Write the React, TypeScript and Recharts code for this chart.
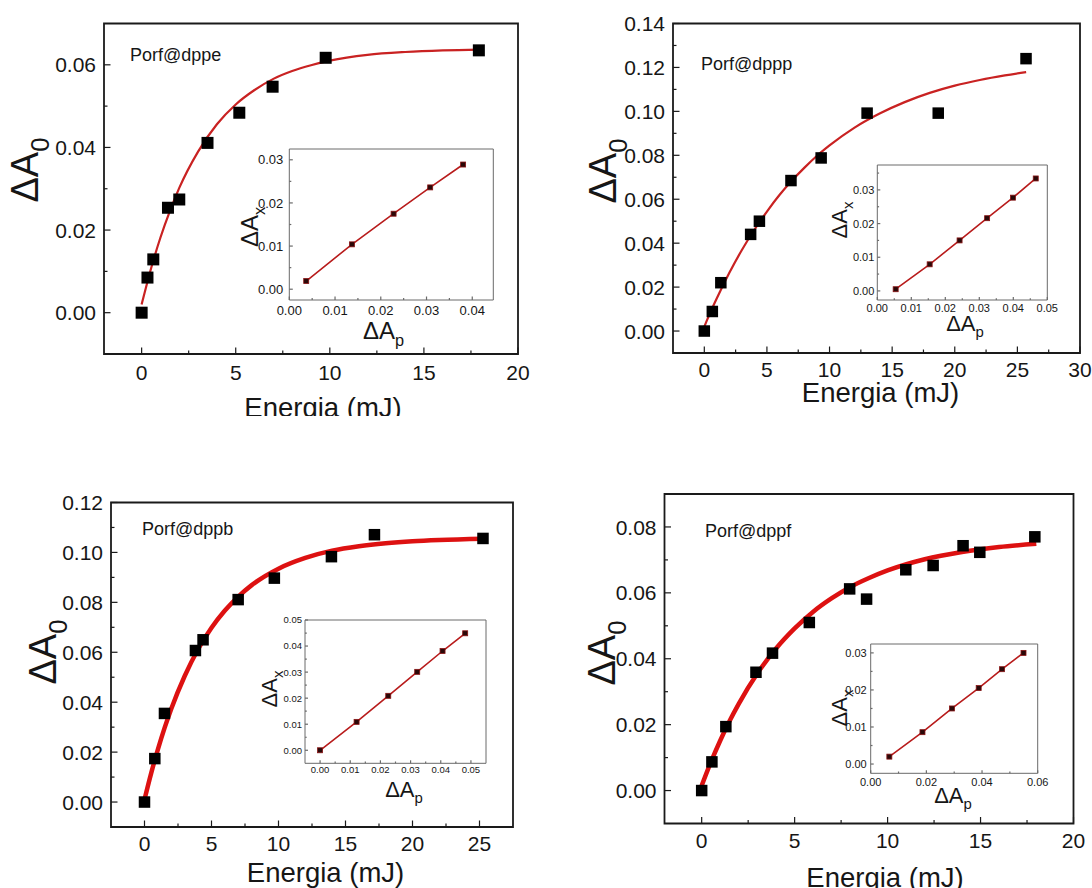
import type { ReactNode } from "react";
import { ComposedChart, Line, ReferenceArea, Scatter, XAxis, YAxis } from "recharts";

const FONT = "'Liberation Sans', Arial, Helvetica, sans-serif";
const INK = "#161616";

// Porf@dppe: measured ΔA0 vs energy, fitted curve, inset ΔAx vs ΔAp
const dppeEnergy = [0, 0.31, 0.62, 1.4, 2.0, 3.5, 5.19, 6.96, 9.78, 17.92];
const dppeA0 = [0, 0.0085, 0.0129, 0.0254, 0.0274, 0.0411, 0.0484, 0.0547, 0.0617, 0.0635];
const dppeFitEnergy = [0, 0.5, 1, 1.5, 2, 3, 4, 5, 6, 7, 8, 9, 10, 12, 14, 16, 18];
const dppeFitA0 = [0.002, 0.0107, 0.0182, 0.0246, 0.0302, 0.039, 0.0456, 0.0504, 0.0539, 0.0566, 0.0585, 0.0599, 0.061, 0.0624, 0.0631, 0.0635, 0.0637];
const dppeAp = [0.0037, 0.0137, 0.0228, 0.0308, 0.038];
const dppeAx = [0.0019, 0.0104, 0.0175, 0.0236, 0.0289];

// Porf@dppp
const dpppEnergy = [0, 0.64, 1.32, 3.7, 4.4, 6.92, 9.33, 13.0, 18.68, 25.69];
const dpppA0 = [0, 0.0089, 0.022, 0.044, 0.05, 0.0685, 0.0788, 0.0992, 0.0992, 0.124];
const dpppFitEnergy = [0, 0.5, 1, 2, 3, 4, 5, 6, 7, 8, 9, 10, 12, 14, 16, 18, 20, 22, 24, 25.7];
const dpppFitA0 = [0.002, 0.0087, 0.0149, 0.0265, 0.0369, 0.0461, 0.0544, 0.0619, 0.0685, 0.0744, 0.0798, 0.0845, 0.0926, 0.099, 0.1042, 0.1084, 0.1117, 0.1143, 0.1164, 0.1179];
const dpppAp = [0.0054, 0.0154, 0.0242, 0.0323, 0.0399, 0.0466];
const dpppAx = [0.0005, 0.0079, 0.015, 0.0216, 0.0277, 0.0334];

// Porf@dppb
const dppbEnergy = [0, 0.77, 1.49, 3.8, 4.37, 6.99, 9.69, 13.95, 17.16, 25.26];
const dppbA0 = [0, 0.0174, 0.0355, 0.0607, 0.065, 0.0811, 0.0897, 0.0983, 0.1071, 0.1056];
const dppbFitEnergy = [0, 0.5, 1, 1.5, 2, 3, 4, 5, 6, 7, 8, 10, 12, 14, 16, 18, 20, 22, 25.3];
const dppbFitA0 = [0.001, 0.0116, 0.0211, 0.0297, 0.0374, 0.0505, 0.0612, 0.0698, 0.0767, 0.0823, 0.0869, 0.0935, 0.0978, 0.1007, 0.1025, 0.1037, 0.1045, 0.105, 0.1055];
const dppbAp = [0, 0.0121, 0.0226, 0.0322, 0.0406, 0.0481];
const dppbAx = [0, 0.0109, 0.0209, 0.0301, 0.0381, 0.0449];

// Porf@dppf
const dppfEnergy = [0, 0.55, 1.3, 2.92, 3.81, 5.79, 7.96, 8.87, 10.98, 12.45, 14.06, 14.96, 17.92];
const dppfA0 = [0, 0.0087, 0.0194, 0.0359, 0.0417, 0.051, 0.0612, 0.0581, 0.067, 0.0683, 0.0743, 0.0723, 0.077];
const dppfFitEnergy = [0, 0.5, 1, 1.5, 2, 3, 4, 5, 6, 7, 8, 9, 10, 12, 14, 16, 18];
const dppfFitA0 = [0.0015, 0.0087, 0.0152, 0.0211, 0.0264, 0.0356, 0.0431, 0.0492, 0.0543, 0.0584, 0.0618, 0.0645, 0.0668, 0.0702, 0.0724, 0.0739, 0.0749];
const dppfAp = [0.0067, 0.0186, 0.0292, 0.0388, 0.0472, 0.0549];
const dppfAx = [0.002, 0.0086, 0.015, 0.0205, 0.0256, 0.03];

// tick values
const energy20 = [0, 5, 10, 15, 20];
const energy20Minor = [2.5, 7.5, 12.5, 17.5];
const energy30 = [0, 5, 10, 15, 20, 25, 30];
const energy30Minor = [2.5, 7.5, 12.5, 17.5, 22.5, 27.5];
const energy25 = [0, 5, 10, 15, 20, 25];
const energy25Minor = [2.5, 7.5, 12.5, 17.5, 22.5];
const a0To06 = [0, 0.02, 0.04, 0.06];
const a0To06Minor = [0.01, 0.03, 0.05];
const a0To14 = [0, 0.02, 0.04, 0.06, 0.08, 0.1, 0.12, 0.14];
const a0To14Minor = [0.01, 0.03, 0.05, 0.07, 0.09, 0.11, 0.13];
const a0To12 = [0, 0.02, 0.04, 0.06, 0.08, 0.1, 0.12];
const a0To12Minor = [0.01, 0.03, 0.05, 0.07, 0.09, 0.11];
const a0To08 = [0, 0.02, 0.04, 0.06, 0.08];
const a0To08Minor = [0.01, 0.03, 0.05, 0.07];
const inset03 = [0, 0.01, 0.02, 0.03];
const inset03Minor = [0.005, 0.015, 0.025];
const inset035Minor = [0.005, 0.015, 0.025, 0.035];
const inset04 = [0, 0.01, 0.02, 0.03, 0.04];
const inset04Minor = [0.005, 0.015, 0.025, 0.035];
const inset05 = [0, 0.01, 0.02, 0.03, 0.04, 0.05];
const inset05Minor = [0.005, 0.015, 0.025, 0.035, 0.045];
const inset06 = [0, 0.02, 0.04, 0.06];
const inset06Minor = [0.01, 0.03, 0.05];

type Pt = { x: number; y: number };
type Rect = { x0: number; y0: number; x1: number; y1: number };
type Place = { left: number; top: number; width: number; height: number };
type Look = {
  tickFont: number;
  major: number;
  minor: number;
  yGap: number;
  xDy: number;
  frame: string;
  frameWidth: number;
  tick: string;
};

const toPts = (xs: number[], ys: number[]): Pt[] => xs.map((x, i) => ({ x, y: ys[i] }));
const fix2 = (v: number) => v.toFixed(2);
const plain = (v: number) => String(v);

const MAIN: Look = { tickFont: 21, major: 6.5, minor: 3.5, yGap: 8, xDy: 25, frame: "#1a1a1a", frameWidth: 1.8, tick: "#1a1a1a" };
const INSET: Look = { tickFont: 11, major: 3, minor: 1.8, yGap: 3, xDy: 11.5, frame: "#6a6a6a", frameWidth: 1, tick: "#6a6a6a" };

function Delta({ x, y, size, sub, vertical }: { x: number; y: number; size: number; sub: string; vertical?: boolean }) {
  return (
    <text
      x={x}
      y={y}
      transform={vertical ? `rotate(-90 ${x} ${y})` : undefined}
      textAnchor="middle"
      fontFamily={FONT}
      fontSize={size}
      fill={INK}
    >
      ΔA
      <tspan fontSize={size * 0.68} dy={size * 0.28}>
        {sub}
      </tspan>
    </text>
  );
}

function Energia({ x, y }: { x: number; y: number }) {
  return (
    <text x={x} y={y} textAnchor="middle" fontFamily={FONT} fontSize={27.5} fill={INK}>
      Energia (mJ)
    </text>
  );
}

function Name({ x, y, text }: { x: number; y: number; text: string }) {
  return (
    <text x={x} y={y} fontFamily={FONT} fontSize={18} fill={INK}>
      {text}
    </text>
  );
}

type PlotProps = {
  place: Place;
  plot: Rect;
  look: Look;
  xDomain: [number, number];
  yDomain: [number, number];
  xMajor: number[];
  xMinor: number[];
  yMajor: number[];
  yMinor: number[];
  xFmt: (v: number) => string;
  yFmt: (v: number) => string;
  points: Pt[];
  fit: Pt[];
  marker: { size: number; fill: string; stroke?: string };
  fitStroke: string;
  fitWidth: number;
  fitType: "monotone" | "linear";
  fitOnTop: boolean;
  yTitle: ReactNode;
  xTitle: ReactNode;
  name?: ReactNode;
};

function Plot(p: PlotProps) {
  const { place, plot, look } = p;
  const ox = place.left;
  const oy = place.top;
  const margin = { top: plot.y0 - oy, right: ox + place.width - plot.x1, left: 0, bottom: 0 };
  const shift = `translate(${-ox} ${-oy})`;

  const xTick = (props: any) => {
    const { x, y, payload } = props;
    const isMajor = p.xMajor.includes(payload.value);
    return (
      <g>
        <line x1={x} x2={x} y1={y} y2={y - (isMajor ? look.major : look.minor)} stroke={look.tick} strokeWidth={1.2} />
        {isMajor && (
          <text x={x} y={y + look.xDy} textAnchor="middle" fontFamily={FONT} fontSize={look.tickFont} fill={INK}>
            {p.xFmt(payload.value)}
          </text>
        )}
      </g>
    );
  };

  const yTick = (props: any) => {
    const { x, y, payload } = props;
    const isMajor = p.yMajor.includes(payload.value);
    return (
      <g>
        <line x1={x} x2={x + (isMajor ? look.major : look.minor)} y1={y} y2={y} stroke={look.tick} strokeWidth={1.2} />
        {isMajor && (
          <text x={x - look.yGap} y={y} dy="0.36em" textAnchor="end" fontFamily={FONT} fontSize={look.tickFont} fill={INK}>
            {p.yFmt(payload.value)}
          </text>
        )}
      </g>
    );
  };

  const square = (props: any) => {
    const s = p.marker.size;
    return (
      <rect
        x={props.cx - s / 2}
        y={props.cy - s / 2}
        width={s}
        height={s}
        fill={p.marker.fill}
        stroke={p.marker.stroke ?? "none"}
        strokeWidth={0.8}
      />
    );
  };

  const dots = <Scatter key="dots" data={p.points} dataKey="y" shape={square} isAnimationActive={false} />;
  const curve = (
    <Line
      key="fit"
      data={p.fit}
      dataKey="y"
      type={p.fitType}
      stroke={p.fitStroke}
      strokeWidth={p.fitWidth}
      dot={false}
      activeDot={false}
      isAnimationActive={false}
    />
  );

  return (
    <div style={{ position: "absolute", left: ox, top: oy, width: place.width, height: place.height, overflow: "hidden" }}>
      <ComposedChart width={place.width} height={place.height} margin={margin}>
        <XAxis
          type="number"
          dataKey="x"
          domain={p.xDomain}
          allowDataOverflow
          ticks={[...p.xMajor, ...p.xMinor]}
          interval={0}
          height={oy + place.height - plot.y1}
          axisLine={false}
          tickLine={false}
          tickSize={0}
          tickMargin={0}
          tick={xTick}
          label={() => <g transform={shift}>{p.xTitle}</g>}
        />
        <YAxis
          type="number"
          domain={p.yDomain}
          allowDataOverflow
          ticks={[...p.yMajor, ...p.yMinor]}
          interval={0}
          width={plot.x0 - ox}
          axisLine={false}
          tickLine={false}
          tickSize={0}
          tickMargin={0}
          tick={yTick}
          label={() => <g transform={shift}>{p.yTitle}</g>}
        />
        <ReferenceArea
          x1={p.xDomain[0]}
          x2={p.xDomain[1]}
          y1={p.yDomain[0]}
          y2={p.yDomain[1]}
          ifOverflow="visible"
          fill="none"
          fillOpacity={0}
          stroke={look.frame}
          strokeWidth={look.frameWidth}
          label={() => <g transform={shift}>{p.name}</g>}
        />
        {p.fitOnTop ? [dots, curve] : [curve, dots]}
      </ComposedChart>
    </div>
  );
}

const INSET_SQUARE = { size: 5, fill: "#2a0808", stroke: "#8a1414" };
const INSET_LINE = "#b81c1c";

export default function App() {
  return (
    <div style={{ position: "absolute", left: 0, top: 0, width: 1092, height: 888, background: "#fff", overflow: "hidden" }}>
      {/* Porf@dppe */}
      <Plot
        place={{ left: 0, top: 0, width: 540, height: 416 }}
        plot={{ x0: 104, y0: 23.5, x1: 518, y1: 354 }}
        look={{ ...MAIN, xDy: 26 }}
        xDomain={[-2, 20]}
        yDomain={[-0.01, 0.07]}
        xMajor={energy20}
        xMinor={energy20Minor}
        yMajor={a0To06}
        yMinor={a0To06Minor}
        xFmt={plain}
        yFmt={fix2}
        points={toPts(dppeEnergy, dppeA0)}
        fit={toPts(dppeFitEnergy, dppeFitA0)}
        marker={{ size: 12, fill: "#000" }}
        fitStroke="#c92222"
        fitWidth={2.2}
        fitType="monotone"
        fitOnTop
        yTitle={<Delta x={38} y={170} size={38} sub="0" vertical />}
        xTitle={<Energia x={323} y={417} />}
        name={<Name x={130} y={61} text="Porf@dppe" />}
      />
      <Plot
        place={{ left: 225, top: 142, width: 275, height: 216 }}
        plot={{ x0: 289.3, y0: 149, x1: 493.3, y1: 300 }}
        look={{ ...INSET, tickFont: 13, major: 3.5, minor: 2, yGap: 6, xDy: 14.5 }}
        xDomain={[0, 0.0446]}
        yDomain={[-0.0025, 0.0325]}
        xMajor={inset04}
        xMinor={inset04Minor}
        yMajor={inset03}
        yMinor={inset03Minor}
        xFmt={fix2}
        yFmt={fix2}
        points={toPts(dppeAp, dppeAx)}
        fit={toPts(dppeAp, dppeAx)}
        marker={INSET_SQUARE}
        fitStroke={INSET_LINE}
        fitWidth={1.6}
        fitType="linear"
        fitOnTop={false}
        yTitle={<Delta x={258} y={227} size={24} sub="x" vertical />}
        xTitle={<Delta x={383.5} y={339} size={24} sub="p" />}
      />

      {/* Porf@dppp */}
      <Plot
        place={{ left: 540, top: 0, width: 552, height: 416 }}
        plot={{ x0: 673, y0: 23.5, x1: 1080, y1: 353 }}
        look={{ ...MAIN, xDy: 23.5 }}
        xDomain={[-2.5, 30]}
        yDomain={[-0.01, 0.14]}
        xMajor={energy30}
        xMinor={energy30Minor}
        yMajor={a0To14}
        yMinor={a0To14Minor}
        xFmt={plain}
        yFmt={fix2}
        points={toPts(dpppEnergy, dpppA0)}
        fit={toPts(dpppFitEnergy, dpppFitA0)}
        marker={{ size: 11.5, fill: "#000" }}
        fitStroke="#c92222"
        fitWidth={2.2}
        fitType="monotone"
        fitOnTop
        yTitle={<Delta x={616} y={171} size={38} sub="0" vertical />}
        xTitle={<Energia x={880.5} y={402} />}
        name={<Name x={701} y={69.5} text="Porf@dppp" />}
      />
      <Plot
        place={{ left: 815, top: 158, width: 247, height: 192 }}
        plot={{ x0: 877.3, y0: 165, x1: 1047.3, y1: 300 }}
        look={INSET}
        xDomain={[0, 0.05]}
        yDomain={[-0.0027, 0.0374]}
        xMajor={inset05}
        xMinor={inset05Minor}
        yMajor={inset03}
        yMinor={inset035Minor}
        xFmt={fix2}
        yFmt={fix2}
        points={toPts(dpppAp, dpppAx)}
        fit={toPts(dpppAp, dpppAx)}
        marker={INSET_SQUARE}
        fitStroke={INSET_LINE}
        fitWidth={1.6}
        fitType="linear"
        fitOnTop={false}
        yTitle={<Delta x={847} y={220} size={22} sub="x" vertical />}
        xTitle={<Delta x={965} y={331} size={22} sub="p" />}
      />

      {/* Porf@dppb */}
      <Plot
        place={{ left: 0, top: 440, width: 540, height: 448 }}
        plot={{ x0: 111, y0: 502.5, x1: 513, y1: 827 }}
        look={{ ...MAIN, xDy: 23.5 }}
        xDomain={[-2.5, 27.5]}
        yDomain={[-0.01, 0.12]}
        xMajor={energy25}
        xMinor={energy25Minor}
        yMajor={a0To12}
        yMinor={a0To12Minor}
        xFmt={plain}
        yFmt={fix2}
        points={toPts(dppbEnergy, dppbA0)}
        fit={toPts(dppbFitEnergy, dppbFitA0)}
        marker={{ size: 11.5, fill: "#000" }}
        fitStroke="#dd1111"
        fitWidth={4.5}
        fitType="monotone"
        fitOnTop
        yTitle={<Delta x={56} y={652} size={38} sub="0" vertical />}
        xTitle={<Energia x={325.5} y={882} />}
        name={<Name x={142} y={535} text="Porf@dppb" />}
      />
      <Plot
        place={{ left: 245, top: 612, width: 253, height: 206 }}
        plot={{ x0: 305, y0: 620, x1: 486, y1: 763.3 }}
        look={{ ...INSET, tickFont: 9.5, xDy: 10 }}
        xDomain={[-0.005, 0.055]}
        yDomain={[-0.005, 0.05]}
        xMajor={inset05}
        xMinor={inset05Minor}
        yMajor={inset05}
        yMinor={inset05Minor}
        xFmt={fix2}
        yFmt={fix2}
        points={toPts(dppbAp, dppbAx)}
        fit={toPts(dppbAp, dppbAx)}
        marker={INSET_SQUARE}
        fitStroke={INSET_LINE}
        fitWidth={1.6}
        fitType="linear"
        fitOnTop={false}
        yTitle={<Delta x={277} y={689} size={22} sub="x" vertical />}
        xTitle={<Delta x={404} y={797} size={22} sub="p" />}
      />

      {/* Porf@dppf */}
      <Plot
        place={{ left: 540, top: 440, width: 552, height: 448 }}
        plot={{ x0: 664.5, y0: 494, x1: 1073.5, y1: 823.5 }}
        look={{ ...MAIN, xDy: 24 }}
        xDomain={[-2, 20]}
        yDomain={[-0.01, 0.09]}
        xMajor={energy20}
        xMinor={energy20Minor}
        yMajor={a0To08}
        yMinor={a0To08Minor}
        xFmt={plain}
        yFmt={fix2}
        points={toPts(dppfEnergy, dppfA0)}
        fit={toPts(dppfFitEnergy, dppfFitA0)}
        marker={{ size: 11.5, fill: "#000" }}
        fitStroke="#dd1111"
        fitWidth={4.5}
        fitType="monotone"
        fitOnTop
        yTitle={<Delta x={615} y={653} size={38} sub="0" vertical />}
        xTitle={<Energia x={885} y={886.5} />}
        name={<Name x={705} y={537} text="Porf@dppf" />}
      />
      <Plot
        place={{ left: 810, top: 636, width: 242, height: 185 }}
        plot={{ x0: 870.7, y0: 644, x1: 1037.7, y1: 773.3 }}
        look={{ ...INSET, yGap: 4, xDy: 12.5 }}
        xDomain={[0, 0.06]}
        yDomain={[-0.0025, 0.0324]}
        xMajor={inset06}
        xMinor={inset06Minor}
        yMajor={inset03}
        yMinor={inset03Minor}
        xFmt={fix2}
        yFmt={fix2}
        points={toPts(dppfAp, dppfAx)}
        fit={toPts(dppfAp, dppfAx)}
        marker={INSET_SQUARE}
        fitStroke={INSET_LINE}
        fitWidth={1.6}
        fitType="linear"
        fitOnTop={false}
        yTitle={<Delta x={847} y={708} size={22} sub="x" vertical />}
        xTitle={<Delta x={953} y={803} size={22} sub="p" />}
      />
    </div>
  );
}
